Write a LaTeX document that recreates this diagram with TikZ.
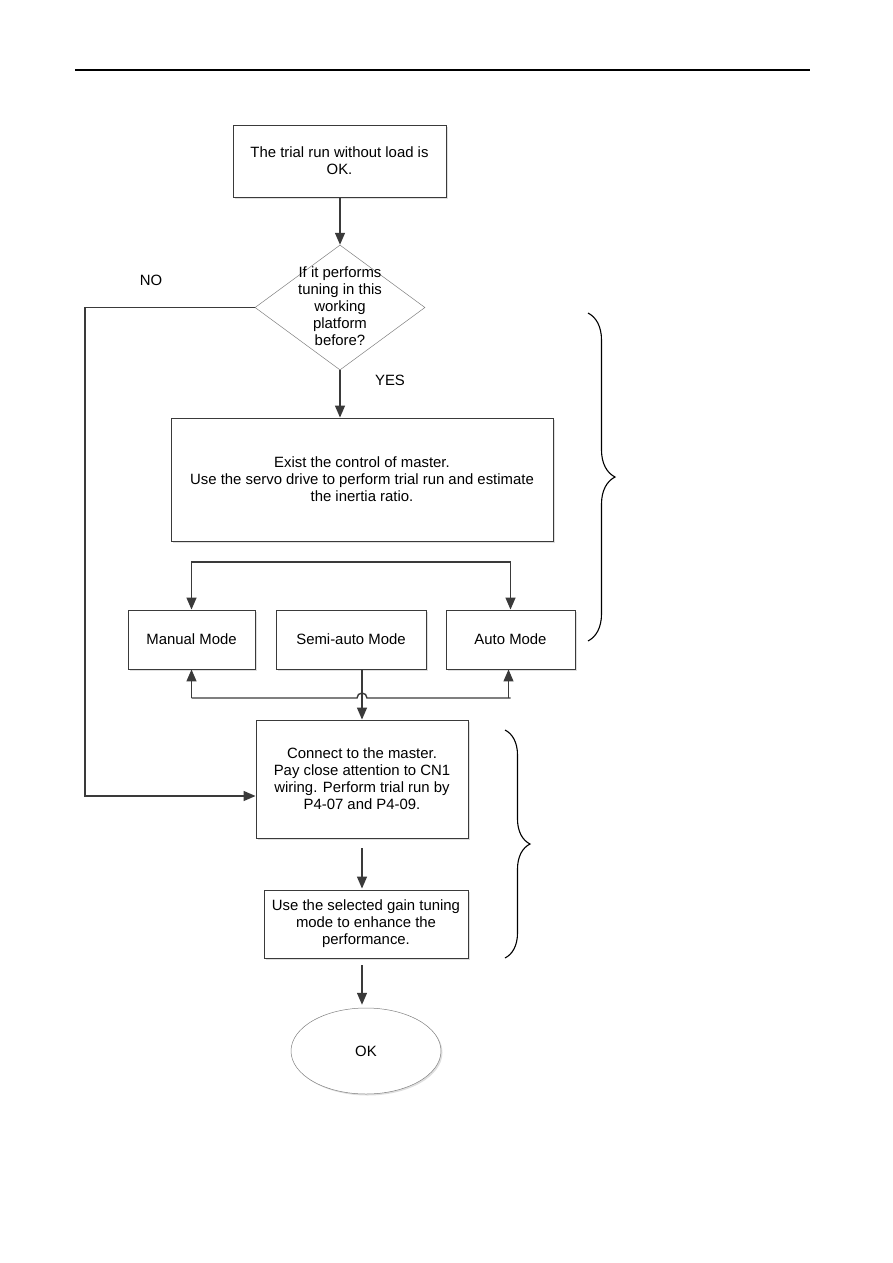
\documentclass[tikz,border=0pt]{standalone}
\usepackage{fontspec}
\setmainfont{Liberation Sans}
\usetikzlibrary{arrows.meta,shapes.geometric,shadows,decorations.pathreplacing}
\definecolor{lin}{HTML}{3A3A3A}
\begin{document}
\begin{tikzpicture}[x=1pt,y=-1pt,
  every node/.style={font=\fontsize{14.9}{17}\selectfont, text=black},
  box/.style={draw=lin, line width=0.9pt, fill=white, rectangle, align=center, inner sep=0pt,
     drop shadow={shadow xshift=1.5pt, shadow yshift=-1.5pt, opacity=0.25}},
  arr/.style={draw=lin, line width=1.4pt, -{Triangle[length=12pt,width=10pt]}},
  ln/.style={draw=lin, line width=1.4pt},
  thinarr/.style={draw=lin, line width=1pt, -{Triangle[length=12pt,width=10pt]}},
  brc/.style={draw=black, line width=1.1pt, decorate}]
\useasboundingbox (0,0) rectangle (893,1263);
\draw[line width=1.4pt] (75,70) -- (810,70);

\node[box, minimum width=213pt, minimum height=72pt] (b1) at (339.5,161)
  {The trial run without load is\\OK.};
\node[diamond, draw=gray, line width=0.5pt, fill=white, minimum width=170pt, minimum height=125pt, inner sep=0pt] (d) at (340,307.5) {};
\node[align=center] (dt) at (340,306) {If it performs\\tuning in this\\working\\platform\\before?};
\node (no) at (151,280) {NO};
\node (yes) at (390,380) {YES};

\node[box, minimum width=382pt, minimum height=123pt] (b2) at (362,479.5)
  {Exist the control of master.\\Use the servo drive to perform trial run and estimate\\the inertia ratio.};

\node[box, minimum width=127pt, minimum height=59pt] (man) at (191.5,639.5) {Manual Mode};
\node[box, minimum width=150pt, minimum height=59pt] (semi) at (351,639.5) {Semi-auto Mode};
\node[box, minimum width=129pt, minimum height=59pt] (auto) at (510.5,639.5) {Auto Mode};

\node[box, minimum width=212pt, minimum height=118pt] (b3) at (362,779)
  {Connect to the master.\\Pay close attention to CN1\\wiring. Perform trial run by\\P4-07 and P4-09.};
\node[box, minimum width=204pt, minimum height=68pt] (b4) at (366,924)
  {Use the selected gain tuning\\mode to enhance the\\performance.};
\node[ellipse, draw=gray, line width=0.5pt, fill=white, minimum width=150pt, minimum height=86pt,
  drop shadow={shadow xshift=1.5pt, shadow yshift=-1.5pt, opacity=0.25}] (ell) at (366,1051) {OK};

% connectors
\draw[arr] (b1.south -| d.north) -- (d.north);
\draw[arr] (d.south) -- (d.south |- b2.north);

\coordinate (tm) at (351,562);
\draw[arr] (tm) -| (man.north);
\draw[arr] (tm) -| (auto.north);

\draw[arr] (semi.south -| b3.north) -- (b3.north);

\coordinate (bm) at (351,698);
\draw[ln] (man.south |- bm) -- (357,698) arc[start angle=180, end angle=0, radius=5pt] -- (auto.south |- bm);
\draw[arr] (man.south |- bm) -- (man.south);
\draw[thinarr] ([xshift=-2pt]auto.south |- bm) -- ([xshift=-2pt]auto.south);

\coordinate (nl) at (85,796);
\draw[arr] (d.west) -| (nl) -- (nl -| b3.west);

\draw[arr, shorten <=10pt, shorten >=1pt] (b3.south) -- (b3.south |- b4.north);
\draw[arr, shorten <=7pt, shorten >=3pt] (b4.south -| b3.south) -- (b3.south |- ell.north);

% braces
\draw[brc, decoration={brace, amplitude=27pt}] (588,313) -- (588,641);
\draw[brc, decoration={brace, amplitude=25pt}] (505,730) -- (505,958);
\end{tikzpicture}
\end{document}
